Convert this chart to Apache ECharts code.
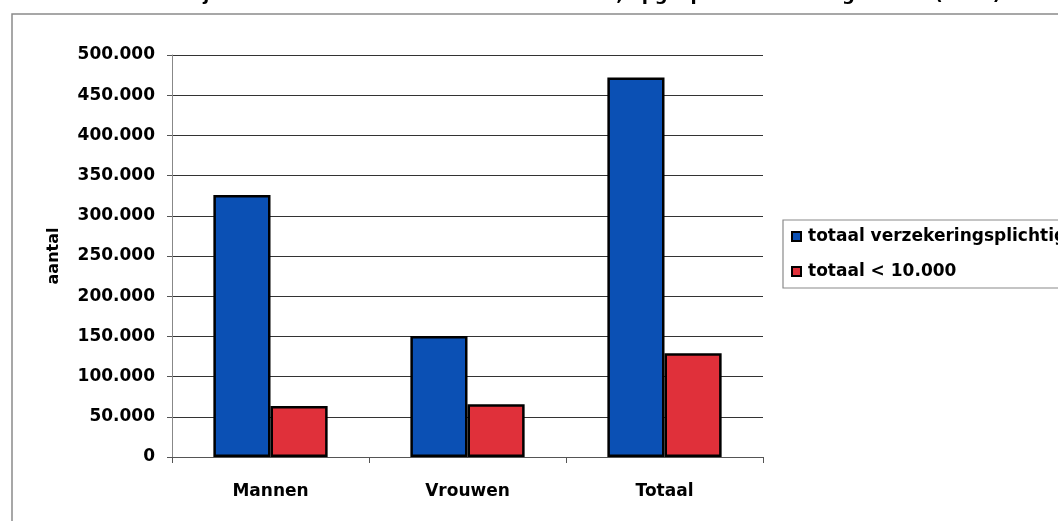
<!DOCTYPE html>
<html>
<head>
<meta charset="utf-8">
<script src="https://cdn.jsdelivr.net/npm/echarts@6/dist/echarts.min.js"></script>
<style>
  html, body { margin: 0; padding: 0; background: #ffffff; }
  #chart { width: 1058px; height: 521px; }
</style>
</head>
<body>
<div id="chart"></div>
<script>
// Categories on the x axis
const categories = ['Mannen', 'Vrouwen', 'Totaal'];
// Series names shown in the legend
const seriesNames = ['totaal verzekeringsplichtigen', 'totaal < 10.000'];
// Counts per category
const totaalVerzekeringsplichtig = [326000, 150500, 472000];
const totaalOnder10000 = [63500, 65500, 129000];
// Value axis range
const yMin = 0;
const yMax = 500000;
const yStep = 50000;
const titleText = 'Het aantal met jaarinkomen < 10.000 euro en het totaal, opgesplitst naar het geslacht (2008)';

const FONT = 'DejaVu Sans';

// Thousands separated by dots, e.g. 150.000
function fmt(v) {
  return String(Math.round(v)).replace(/\B(?=(\d{3})+(?!\d))/g, '.');
}

const chart = echarts.init(document.getElementById('chart'), null, { renderer: 'canvas' });

chart.setOption({
  animation: false,
  backgroundColor: '#ffffff',
  title: {
    text: titleText,
    left: 40,
    top: -19,
    textStyle: { fontFamily: FONT, fontWeight: 'bold', fontSize: 18, color: '#000' }
  },
  graphic: [{
    type: 'rect',
    shape: { x: 12, y: 14, width: 1200, height: 600 },
    style: { fill: 'none', stroke: '#8a8a8a', lineWidth: 1.5 },
    silent: true,
    z: -1
  }],
  legend: {
    orient: 'vertical',
    left: 783,
    top: 220,
    data: seriesNames,
    icon: 'rect',
    itemWidth: 9,
    itemHeight: 9,
    itemGap: 18,
    padding: [8, 10, 8, 8],
    borderColor: '#8a8a8a',
    borderWidth: 1.2,
    textStyle: { fontFamily: FONT, fontWeight: 'bold', fontSize: 17, color: '#000', padding: [0, 0, 0, 2] }
  },
  grid: { left: 172, top: 55, width: 591, bottom: 64, containLabel: false },
  xAxis: {
    type: 'category',
    data: categories,
    axisLine: { lineStyle: { color: '#555', width: 1 } },
    axisTick: { show: true, length: 6, lineStyle: { color: '#555' } },
    axisLabel: { margin: 26, fontFamily: FONT, fontWeight: 'bold', fontSize: 17, color: '#000' }
  },
  yAxis: {
    type: 'value',
    min: yMin,
    max: yMax,
    interval: yStep,
    name: 'aantal',
    nameLocation: 'middle',
    nameGap: 110,
    nameRotate: 90,
    nameTextStyle: { fontFamily: FONT, fontWeight: 'bold', fontSize: 16, color: '#000' },
    axisLine: { show: true, lineStyle: { color: '#888', width: 1 } },
    axisTick: { show: true, inside: false, length: 5, lineStyle: { color: '#555' } },
    axisLabel: { margin: 17, fontFamily: FONT, fontWeight: 'bold', fontSize: 17, color: '#000', formatter: fmt },
    splitLine: { show: true, lineStyle: { color: '#333', width: 1.2 } }
  },
  series: [
    {
      name: seriesNames[0],
      type: 'bar',
      data: totaalVerzekeringsplichtig,
      barGap: '0%',
      barCategoryGap: '42%',
      itemStyle: { color: '#0b50b4', borderColor: '#000', borderWidth: 2.5 }
    },
    {
      name: seriesNames[1],
      type: 'bar',
      data: totaalOnder10000,
      itemStyle: { color: '#e0303a', borderColor: '#000', borderWidth: 2.5 }
    }
  ]
});
</script>
</body>
</html>
